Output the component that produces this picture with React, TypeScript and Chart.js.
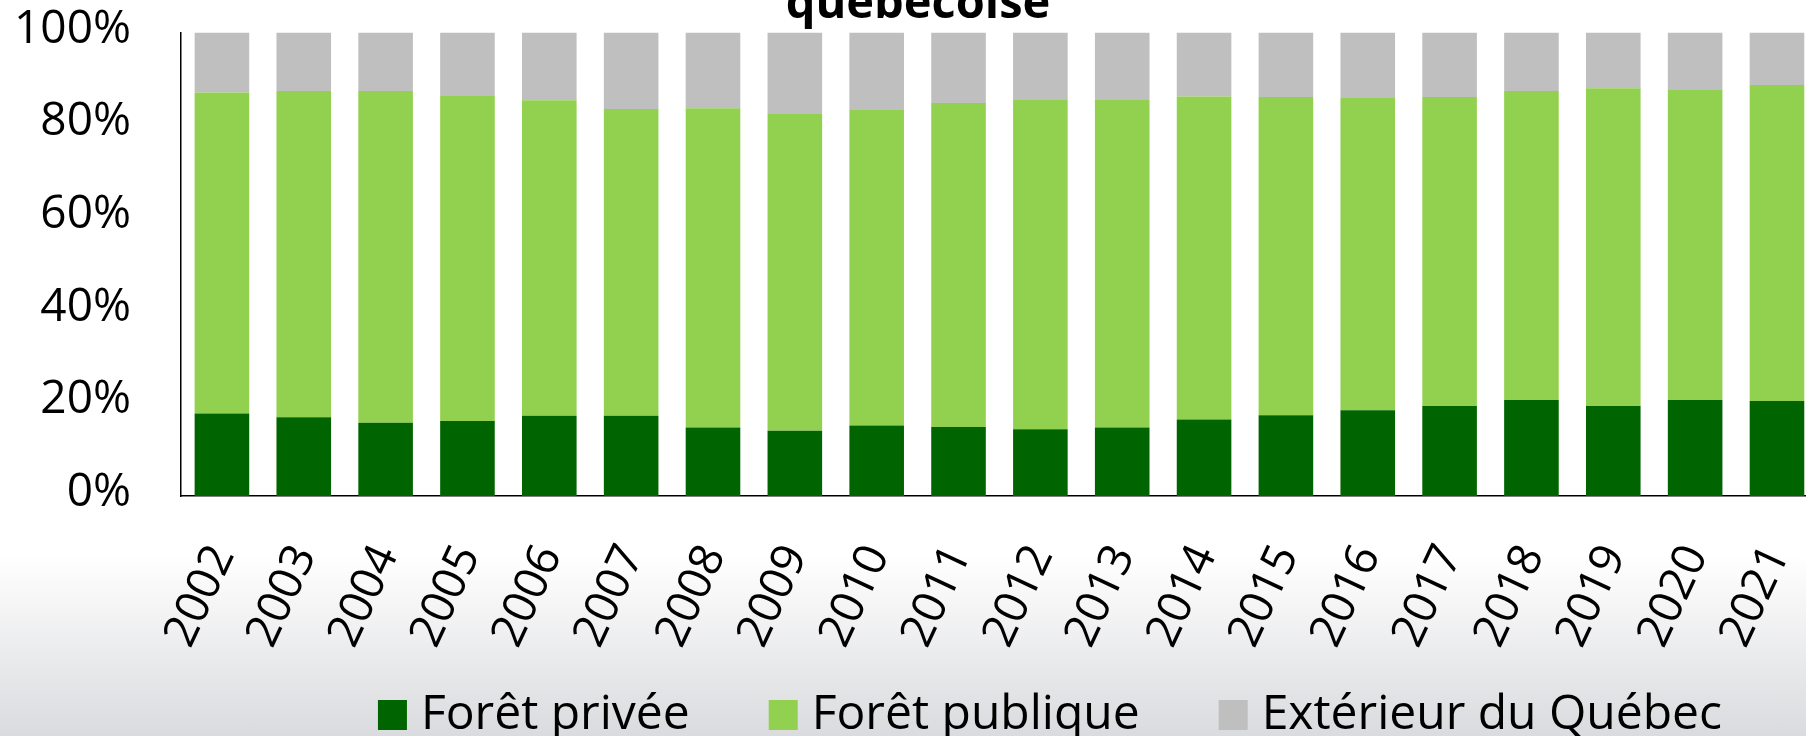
import React, { useEffect, useRef } from "react";
import { Chart, registerables } from "chart.js";

Chart.register(...registerables);

const years = ["2002", "2003", "2004", "2005", "2006", "2007", "2008", "2009", "2010", "2011", "2012", "2013", "2014", "2015", "2016", "2017", "2018", "2019", "2020", "2021"];
const privee = [17.8, 17.0, 15.8, 16.2, 17.3, 17.3, 14.8, 14.1, 15.2, 14.9, 14.4, 14.8, 16.5, 17.4, 18.5, 19.4, 20.7, 19.4, 20.7, 20.5];
const publique = [69.3, 70.4, 71.6, 70.1, 68.1, 66.2, 68.9, 68.5, 68.1, 69.9, 71.2, 70.8, 69.7, 68.7, 67.4, 66.7, 66.7, 68.6, 67.1, 68.2];
const exterieur = [12.9, 12.6, 12.6, 13.7, 14.6, 16.5, 16.3, 17.4, 16.7, 15.2, 14.4, 14.4, 13.8, 13.9, 14.1, 13.9, 12.6, 12.0, 12.2, 11.3];
const seriesNames = ["Forêt privée", "Forêt publique", "Extérieur du Québec"];
const titleText = "québécoise";
const yTicks = [0, 20, 40, 60, 80, 100];

const CANVAS_W = 1868;
const CANVAS_H = 853;
const CANVAS_TOP = -45;
const FONT = "'Open Sans', 'Noto Sans', sans-serif";

const shiftPlugin = {
  id: "shiftBlocks",
  afterLayout(chart: any) {
    const t = chart.titleBlock;
    if (t) {
      t.left -= 16;
      t.right -= 16;
    }
    const l = chart.legend;
    if (l) {
      l.left += 121;
      l.right += 121;
      l.top -= 59;
      l.bottom -= 59;
    }
  },
};

export default function App() {
  const ref = useRef<HTMLCanvasElement | null>(null);

  useEffect(() => {
    let chart: Chart | null = null;
    let cancelled = false;
    const make = () => {
      if (cancelled || !ref.current) return;
      chart = new Chart(ref.current, {
        type: "bar",
        data: {
          labels: years,
          datasets: [
            { label: seriesNames[0], data: privee, backgroundColor: "#006400", borderWidth: 0 },
            { label: seriesNames[1], data: publique, backgroundColor: "#92D050", borderWidth: 0 },
            { label: seriesNames[2], data: exterieur, backgroundColor: "#BFBFBF", borderWidth: 0 },
          ],
        },
        options: {
          responsive: false,
          animation: false,
          devicePixelRatio: 1,
          layout: { padding: 0 },
          datasets: { bar: { categoryPercentage: 1, barPercentage: 0.667 } },
          scales: {
            x: {
              stacked: true,
              grid: { display: false, drawTicks: false },
              border: { display: true, color: "#000", width: 1.5 },
              ticks: {
                color: "#000",
                font: { family: FONT, size: 46, lineHeight: 1.2 },
                minRotation: 65,
                maxRotation: 65,
                autoSkip: false,
                padding: 41,
                labelOffset: 1,
              },
              afterFit: (s: any) => {
                s.height = 165;
              },
            },
            y: {
              stacked: true,
              min: 0,
              max: 100,
              afterBuildTicks: (s: any) => {
                s.ticks = yTicks.map((v) => ({ value: v }));
              },
              grid: { display: false, drawTicks: false },
              border: { display: true, color: "#000", width: 1.5 },
              ticks: {
                color: "#000",
                font: { family: FONT, size: 46, lineHeight: 1.2 },
                padding: 50,
                labelOffset: -3,
                callback: (v: any) => v + "%",
              },
              afterFit: (s: any) => {
                s.width = 181;
              },
            },
          },
          plugins: {
            title: {
              display: true,
              text: titleText,
              color: "#000",
              font: { family: FONT, size: 47, weight: "bold", lineHeight: 1.2 },
              padding: { top: 5, bottom: 0 },
            },
            legend: {
              position: "bottom",
              labels: {
                color: "#000",
                font: { family: FONT, size: 48 },
                boxWidth: 9,
                boxHeight: 10,
                padding: 89,
                generateLabels: (c: any) =>
                  (Chart.defaults as any).plugins.legend.labels
                    .generateLabels(c)
                    .map((it: any) => ({ ...it, lineWidth: 20, strokeStyle: it.fillStyle, lineJoin: "miter" })),
              },
            },
            tooltip: { enabled: false },
          },
        },
        plugins: [shiftPlugin],
      } as any);
    };
    const fontsReady = (document as any).fonts
      ? Promise.all([
          (document as any).fonts.load(`46px 'Open Sans'`),
          (document as any).fonts.load(`bold 47px 'Open Sans'`),
        ]).catch(() => null)
      : Promise.resolve(null);
    fontsReady.then(make);
    return () => {
      cancelled = true;
      if (chart) chart.destroy();
    };
  }, []);

  return (
    <div
      style={{
        position: "fixed",
        left: 0,
        top: 0,
        width: 1806,
        height: 736,
        overflow: "hidden",
        background: "linear-gradient(to bottom, #ffffff 0px, #ffffff 555px, #dadbde 736px)",
      }}
    >
      <canvas
        ref={ref}
        width={CANVAS_W}
        height={CANVAS_H}
        style={{ position: "absolute", left: 0, top: CANVAS_TOP, width: CANVAS_W, height: CANVAS_H }}
      />
    </div>
  );
}
